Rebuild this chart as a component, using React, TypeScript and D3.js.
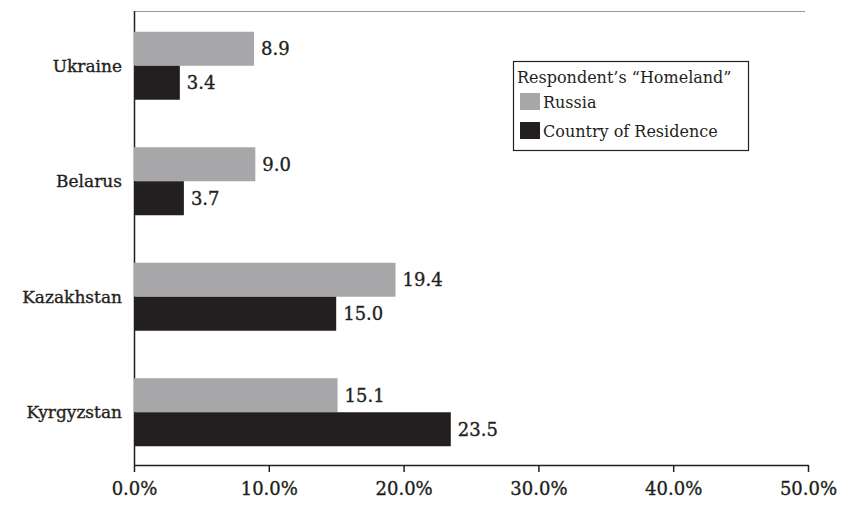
import React, { useEffect, useRef } from 'react'
import * as d3 from 'd3'

const countries = ['Ukraine', 'Belarus', 'Kazakhstan', 'Kyrgyzstan']
const russiaValues = [8.9, 9.0, 19.4, 15.1]
const residenceValues = [3.4, 3.7, 15.0, 23.5]
const xTicks = [0, 10, 20, 30, 40, 50]
const seriesNames = ['Russia', 'Country of Residence']
const legendTitle = 'Respondent\u2019s \u201cHomeland\u201d'

export default function App() {
  const ref = useRef<SVGSVGElement>(null)

  useEffect(() => {
    const svg = d3.select(ref.current)
    svg.selectAll('*').remove()
    const font = 'DejaVu Serif'
    const gray = '#a7a7a9'
    const dark = '#231f20'

    const x = d3.scaleLinear().domain([0, 50]).range([134, 808])
    const y = d3.scaleBand().domain(countries).range([8, 470])
    const barH = 34

    // frame lines
    svg.append('line').attr('x1', 134).attr('x2', 805).attr('y1', 11.5).attr('y2', 11.5)
      .attr('stroke', '#999').attr('stroke-width', 1)
    svg.append('line').attr('x1', 134.5).attr('x2', 134.5).attr('y1', 11).attr('y2', 465)
      .attr('stroke', '#231f20').attr('stroke-width', 1.5)

    // x axis
    const xAxis = d3.axisBottom(x).tickValues(xTicks).tickSize(7).tickSizeOuter(0)
      .tickFormat(d => d3.format('.1f')(d as number) + '%')
    const ax = svg.append('g').attr('transform', 'translate(0,465)').call(xAxis)
    ax.attr('font-family', font).attr('font-size', 18)
    ax.select('.domain').attr('stroke', '#231f20').attr('stroke-width', 1.5)
    ax.selectAll('.tick line').attr('stroke', '#231f20').attr('stroke-width', 1.5)
    ax.selectAll('.tick text').attr('fill', '#231f20').attr('dy', '1.1em')
      .attr('stroke', '#231f20').attr('stroke-width', 0.35)

    // category labels
    svg.selectAll('.cat').data(countries).enter().append('text')
      .attr('x', 122).attr('y', d => (y(d) as number) + y.bandwidth() / 2)
      .attr('dy', '0.35em').attr('text-anchor', 'end')
      .attr('font-family', font).attr('font-size', 17).attr('fill', '#231f20')
      .attr('stroke', '#231f20').attr('stroke-width', 0.35)
      .text(d => d)

    const series = [
      { vals: russiaValues, color: gray, off: -barH },
      { vals: residenceValues, color: dark, off: 0 },
    ]
    series.forEach(s => {
      const g = svg.append('g')
      g.selectAll('rect').data(countries).enter().append('rect')
        .attr('x', x(0))
        .attr('y', d => (y(d) as number) + y.bandwidth() / 2 + s.off)
        .attr('width', (_d, i) => x(s.vals[i]) - x(0))
        .attr('height', barH).attr('fill', s.color)
      g.selectAll('text').data(countries).enter().append('text')
        .attr('x', (_d, i) => x(s.vals[i]) + 7)
        .attr('y', d => (y(d) as number) + y.bandwidth() / 2 + s.off + barH / 2)
        .attr('dy', '0.35em')
        .attr('font-family', font).attr('font-size', 18).attr('fill', '#231f20')
        .attr('stroke', '#231f20').attr('stroke-width', 0.35)
        .text((_d, i) => d3.format('.1f')(s.vals[i]))
    })

    // legend
    const lg = svg.append('g')
    lg.append('rect').attr('x', 513.5).attr('y', 61.5).attr('width', 235).attr('height', 89)
      .attr('fill', 'white').attr('stroke', '#231f20').attr('stroke-width', 1.2)
    lg.append('text').attr('x', 517).attr('y', 83).attr('font-family', font)
      .attr('font-size', 16).attr('fill', '#231f20').text(legendTitle)
    ;[gray, dark].forEach((c, i) => {
      lg.append('rect').attr('x', 520).attr('y', 93 + i * 29).attr('width', 20).attr('height', 17).attr('fill', c)
      lg.append('text').attr('x', 543).attr('y', 108 + i * 29).attr('font-family', font)
        .attr('font-size', 16).attr('fill', '#231f20').text(seriesNames[i])
    })
  }, [])

  return (
    <svg ref={ref} width={841} height={505} style={{ position: 'absolute', left: 0, top: 0, background: 'white' }} />
  )
}
